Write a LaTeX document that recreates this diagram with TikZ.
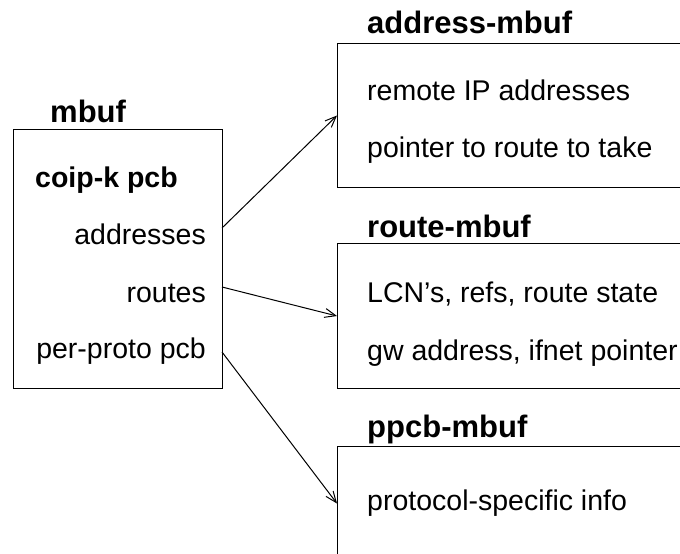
\documentclass[tikz,border=0pt]{standalone}
\usepackage{fontspec}
\setmainfont{Liberation Sans}
\usetikzlibrary{arrows.meta,positioning}
\tikzstyle{membox}=[draw,line width=1pt,rectangle,anchor=north west,inner sep=0pt]
\tikzstyle{title}=[anchor=base west,inner sep=0pt,font=\bfseries\fontsize{31}{36}\selectfont]
\tikzstyle{item}=[anchor=base west,inner sep=0pt,font=\fontsize{28.5}{34}\selectfont]
\tikzstyle{field}=[item,anchor=base east]
\tikzstyle{link}=[draw,line width=1pt,-{Straight Barb[length=11pt,width=9pt]}]

\begin{document}
\begin{tikzpicture}[x=1pt,y=-1pt]
    \clip (0,0) rectangle (680,554);
    % the boxes
    \node[membox,minimum width=209pt,minimum height=259pt] (mbufbox) at (13,129) {};
    \node[membox,minimum width=400pt,minimum height=144pt] (addrbox) at (337,43) {};
    \node[membox,minimum width=400pt,minimum height=145pt] (routebox) at (337,243) {};
    \node[membox,minimum width=400pt,minimum height=114pt] (ppcbbox) at (337,446) {};

    % titles over the boxes
    \foreach \pos/\name/\text in {{(50,122)/mbuf/mbuf}, {(367,34)/addrtitle/address-mbuf}, {(367,237)/routetitle/route-mbuf}, {(367,437)/ppcbtitle/ppcb-mbuf}}
        \node[title] (\name) at \pos {\text};

    % contents of the mbuf
    \node[item,font=\bfseries\fontsize{28.5}{34}\selectfont] (pcb) at (35,187) {coip-k pcb};
    \foreach \pos/\name/\text in {{(206,244)/addr/addresses}, {(206,302)/routes/routes}, {(206,358)/perproto/per-proto pcb}}
        \node[field] (\name) at \pos {\text};

    % contents of the other boxes
    \foreach \pos/\name/\text in {{(367,100)/remote/remote IP addresses}, {(367,157)/pointer/pointer to route to take}, {(367,302)/lcn/LCN's, refs, route state}, {(367,360)/gw/gw address, ifnet pointer}, {(367,510)/info/protocol-specific info}}
        \node[item] (\name) at \pos {\text};

    % pointers out of the mbuf
    \coordinate (addrout) at (222,228);
    \coordinate (routeout) at (222,287);
    \coordinate (ppcbout) at (222,352);
    \foreach \source/\dest in {addrout/addrbox, routeout/routebox, ppcbout/ppcbbox}
        \path[link] (\source) -- (\dest.west);
\end{tikzpicture}
\end{document}
